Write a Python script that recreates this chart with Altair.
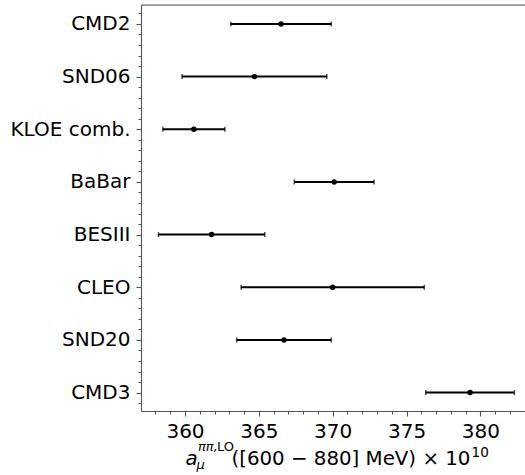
import altair as alt
import pandas as pd

# ---- data ----
experiments = ["CMD2", "SND06", "KLOE comb.", "BaBar", "BESIII", "CLEO", "SND20", "CMD3"]
central = [366.5, 364.7, 360.6, 370.1, 361.8, 370.0, 366.7, 379.3]
uncert = [3.4, 4.9, 2.1, 2.7, 3.6, 6.2, 3.2, 3.0]
x_tick_values = list(range(358, 384))          # minor every 1, labels every 5
y_tick_values = [round(-0.2 + 0.2 * i, 1) for i in range(38)]

n = len(experiments)
df = pd.DataFrame({
    "exp": experiments,
    "val": central,
    "err": uncert,
    "pos": [n - 1 - i for i in range(n)],
})
df["lo"] = df["val"] - df["err"]
df["hi"] = df["val"] + df["err"]

W, H = 384, 406
FONT = "DejaVu Sans"
SPINE = "#555555"
TICKFS = 20

names_by_pos = list(reversed(experiments))
names_js = "[" + ",".join("'" + s + "'" for s in names_by_pos) + "]"

xs = alt.Scale(domain=[357.02, 383.02], nice=False, zero=False)
ys = alt.Scale(domain=[-0.35, 7.36], nice=False, zero=False)

xax = alt.Axis(
    values=x_tick_values,
    labelExpr="datum.value % 5 == 0 ? datum.label : ''",
    tickSize={"condition": {"test": "datum.value % 5 == 0", "value": 5}, "value": 3},
    labelPadding=5.5,
    title=None, grid=False, labelOverlap=False, labelFlush=False,
    domainColor=SPINE, tickColor=SPINE, domainWidth=1.1, tickWidth=1.1,
    labelFont=FONT, labelFontSize=TICKFS, labelColor="#000000",
)
yax = alt.Axis(
    values=y_tick_values,
    labelExpr="abs(datum.value - round(datum.value)) < 0.01 ? " + names_js + "[round(datum.value)] : ''",
    tickSize={"condition": {"test": "abs(datum.value - round(datum.value)) < 0.01", "value": 5}, "value": 3},
    labelPadding=6,
    title=None, grid=False, labelOverlap=False, labelFlush=False,
    domainColor=SPINE, tickColor=SPINE, domainWidth=1.1, tickWidth=1.1,
    labelFont=FONT, labelFontSize=TICKFS, labelColor="#000000",
)

bars = alt.Chart(df).mark_rule(color="black", strokeWidth=2).encode(
    x=alt.X("lo:Q", scale=xs, axis=xax),
    x2="hi:Q",
    y=alt.Y("pos:Q", scale=ys, axis=yax),
)

caps = alt.Chart(df).transform_fold(["lo", "hi"], as_=["end", "v"]).mark_tick(
    orient="vertical", color="black", size=5, thickness=1.5
).encode(
    x=alt.X("v:Q", scale=xs, axis=xax),
    y=alt.Y("pos:Q", scale=ys, axis=yax),
)

points = alt.Chart(df).mark_point(filled=True, color="black", opacity=1, size=30).encode(
    x=alt.X("val:Q", scale=xs, axis=xax),
    y=alt.Y("pos:Q", scale=ys, axis=yax),
)

one = alt.Data(values=[{}])
top_spine = alt.Chart(one).mark_rule(color=SPINE, strokeWidth=1.1).encode(
    x=alt.value(0), x2=alt.value(W), y=alt.value(0)
)

# ---- x-axis title built from pieces (math-style super/subscripts) ----
OX, OY = 141, 5
MAIN, SCRIPT = 19.8, 13


def piece(txt, x, y, size, italic=False, align="left"):
    kw = dict(align=align, baseline="alphabetic", font=FONT, fontSize=size, color="black")
    if italic:
        kw["fontStyle"] = "italic"
    return alt.Chart(one).mark_text(**kw).encode(
        x=alt.value(x - OX), y=alt.value(y - OY), text=alt.value(txt)
    )


title_parts = [
    piece("a", 185.5, 465, MAIN, italic=True),
    piece("μ", 196.5, 469, SCRIPT, italic=True),
    piece("ππ,", 198, 450.5, SCRIPT, italic=True),
    piece("LO", 217, 450.5, SCRIPT),
    piece("([600 − 880] MeV) × 10", 231.5, 465, MAIN),
    piece("10", 471.5, 457, 13.6),
]

chart = alt.layer(top_spine, bars, caps, points, *title_parts).properties(
    width=W,
    height=H,
    autosize=alt.AutoSizeParams(type="none"),
    padding={"left": OX, "top": OY, "right": 0, "bottom": 475 - OY - H},
).configure_view(stroke=None).configure(background="white")

chart.save("out.html", embed_options={"renderer": "svg", "actions": False})
